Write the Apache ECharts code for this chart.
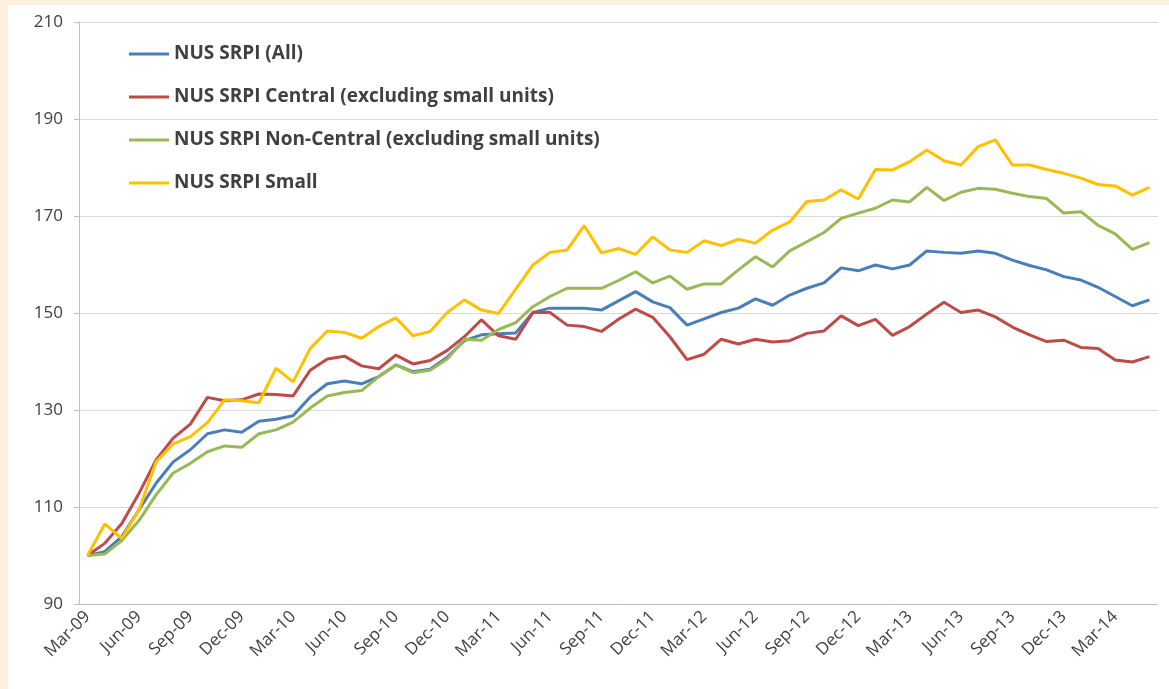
<!DOCTYPE html>
<html>
<head>
<meta charset="utf-8">
<script src="https://cdn.jsdelivr.net/npm/echarts@6/dist/echarts.min.js"></script>
<style>
  html, body { margin: 0; padding: 0; background: #fdf0df; width: 1169px; height: 689px; overflow: hidden; }
  #chart { position: absolute; left: 8px; top: 5px; width: 1161px; height: 684px; background: #fff; }
</style>
</head>
<body>
<div id="chart"></div>
<script>
// months Mar-09 .. May-14
const months = [
  'Mar-09','Apr-09','May-09','Jun-09','Jul-09','Aug-09','Sep-09','Oct-09','Nov-09','Dec-09','Jan-10','Feb-10',
  'Mar-10','Apr-10','May-10','Jun-10','Jul-10','Aug-10','Sep-10','Oct-10','Nov-10','Dec-10','Jan-11','Feb-11',
  'Mar-11','Apr-11','May-11','Jun-11','Jul-11','Aug-11','Sep-11','Oct-11','Nov-11','Dec-11','Jan-12','Feb-12',
  'Mar-12','Apr-12','May-12','Jun-12','Jul-12','Aug-12','Sep-12','Oct-12','Nov-12','Dec-12','Jan-13','Feb-13',
  'Mar-13','Apr-13','May-13','Jun-13','Jul-13','Aug-13','Sep-13','Oct-13','Nov-13','Dec-13','Jan-14','Feb-14',
  'Mar-14','Apr-14','May-14'
]

const srpiAll = [
  100, 100.8, 103.9, 109.4, 114.9, 119.3, 121.8, 125.1, 125.9, 125.4, 127.7, 128.1,
  128.8, 132.7, 135.4, 136.0, 135.4, 136.9, 139.3, 137.9, 138.4, 140.9, 144.3, 145.5,
  145.7, 145.9, 150.1, 151.0, 151.0, 151.0, 150.6, 152.5, 154.4, 152.3, 151.1, 147.5,
  148.8, 150.1, 151.0, 152.9, 151.6, 153.7, 155.1, 156.2, 159.3, 158.7, 159.9, 159.1,
  159.9, 162.8, 162.5, 162.3, 162.8, 162.3, 160.9, 159.8, 158.9, 157.5, 156.8, 155.3,
  153.4, 151.5, 152.7
]

const srpiCentral = [
  100, 102.5, 106.6, 112.8, 119.7, 124.2, 127.1, 132.6, 131.9, 132.1, 133.3, 133.2,
  132.9, 138.2, 140.5, 141.1, 139.1, 138.5, 141.3, 139.5, 140.2, 142.3, 145.1, 148.6,
  145.3, 144.6, 150.1, 150.1, 147.5, 147.2, 146.2, 148.7, 150.8, 149.1, 145.1, 140.4,
  141.5, 144.6, 143.6, 144.6, 144.0, 144.3, 145.8, 146.3, 149.4, 147.4, 148.7, 145.4,
  147.2, 149.8, 152.2, 150.1, 150.6, 149.2, 147.1, 145.5, 144.1, 144.4, 142.9, 142.7,
  140.3, 139.9, 141.0
]

const srpiNonCentral = [
  100, 100.3, 103.1, 107.2, 112.5, 117.0, 119.0, 121.4, 122.6, 122.3, 125.1, 125.9,
  127.5, 130.4, 132.9, 133.6, 134.0, 136.9, 139.3, 137.7, 138.2, 140.5, 144.6, 144.4,
  146.6, 148.0, 151.3, 153.4, 155.1, 155.1, 155.1, 156.7, 158.5, 156.2, 157.6, 154.9,
  156.0, 156.0, 158.9, 161.6, 159.5, 162.8, 164.7, 166.6, 169.5, 170.6, 171.6, 173.3,
  172.9, 175.9, 173.2, 174.9, 175.7, 175.5, 174.7, 174.0, 173.6, 170.6, 170.9, 168.1,
  166.3, 163.1, 164.5
]

const srpiSmall = [
  100, 106.5, 103.5, 109.4, 119.3, 123.0, 124.5, 127.4, 132.1, 131.9, 131.5, 138.6,
  135.8, 142.7, 146.3, 146.0, 144.8, 147.2, 149.0, 145.3, 146.2, 150.1, 152.7, 150.6,
  149.9, 154.9, 159.9, 162.5, 163.0, 168.0, 162.4, 163.3, 162.1, 165.7, 163.0, 162.5,
  164.9, 163.9, 165.2, 164.4, 167.1, 168.8, 173.0, 173.3, 175.4, 173.5, 179.6, 179.5,
  181.2, 183.6, 181.4, 180.5, 184.3, 185.7, 180.5, 180.5, 179.6, 178.8, 177.8, 176.5,
  176.2, 174.3, 175.9
]

const seriesNames = [
  'NUS SRPI (All)',
  'NUS SRPI Central (excluding small units)',
  'NUS SRPI Non-Central (excluding small units)',
  'NUS SRPI Small'
]
const colors = ['#4a7ebb', '#be4b48', '#98b954', '#ffc000']
const seriesData = [srpiAll, srpiCentral, srpiNonCentral, srpiSmall]

const chart = echarts.init(document.getElementById('chart'))

const option = {
  animation: false,
  color: colors,
  textStyle: { fontFamily: 'Open Sans, Liberation Sans, sans-serif' },
  grid: { left: 71, right: 11, top: 17, bottom: 85 },
  legend: {
    orient: 'vertical',
    left: 116,
    top: 33,
    icon: 'rect',
    itemWidth: 40,
    itemHeight: 3,
    itemGap: 21,
    textStyle: { fontSize: 19, fontWeight: 'bold', color: '#404040', lineHeight: 22 },
    data: seriesNames
  },
  xAxis: {
    type: 'category',
    data: months,
    boundaryGap: true,
    axisLine: { lineStyle: { color: '#bfbfbf', width: 1 } },
    axisTick: { interval: 2, length: 5, lineStyle: { color: '#bfbfbf' } },
    axisLabel: { interval: 2, rotate: 45, margin: 10, fontSize: 17, color: '#404040' },
    splitLine: { show: false }
  },
  yAxis: {
    type: 'value',
    min: 90,
    max: 210,
    interval: 20,
    axisLine: { show: true, lineStyle: { color: '#bfbfbf', width: 1 } },
    axisTick: { show: true, length: 5, lineStyle: { color: '#bfbfbf' } },
    axisLabel: { margin: 16, fontSize: 17, color: '#404040' },
    splitLine: { lineStyle: { color: '#d9d9d9', width: 1 } }
  },
  series: seriesNames.map((name, i) => ({
    name: name,
    type: 'line',
    data: seriesData[i],
    symbol: 'none',
    lineStyle: { width: 3, color: colors[i] },
    itemStyle: { color: colors[i] }
  }))
}

chart.setOption(option)
</script>
</body>
</html>
